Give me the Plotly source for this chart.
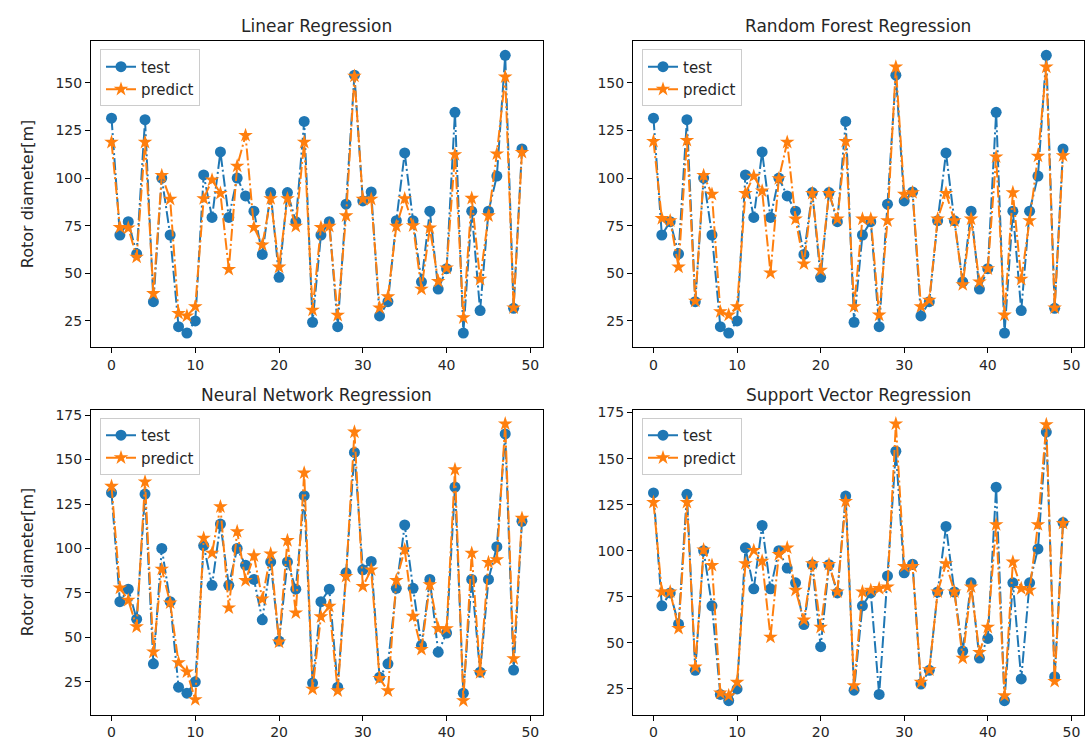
import plotly.graph_objects as go
from plotly.subplots import make_subplots

idx = list(range(50))

test = [131.4, 70.1, 77.1, 60.2, 130.6, 35.1, 100.0, 70.1, 22.0, 18.6,
        25.0, 101.6, 79.3, 113.7, 79.3, 100.0, 90.6, 82.6, 59.9, 92.4,
        47.9, 92.4, 77.1, 129.7, 24.3, 70.1, 77.1, 22.0, 86.3, 154.0,
        88.0, 92.7, 27.6, 35.1, 77.6, 113.2, 77.6, 45.5, 82.6, 41.7,
        52.4, 134.5, 18.6, 82.6, 30.4, 82.6, 101.0, 164.4, 31.6, 115.3]

lr_pred = [118.8, 74.1, 73.8, 58.5, 118.8, 39.4, 101.4, 88.9, 29.0, 27.6,
           32.5, 89.2, 99.0, 92.0, 52.1, 106.3, 122.4, 74.1, 64.9, 89.2,
           53.3, 89.2, 74.7, 118.8, 30.7, 74.1, 74.7, 28.0, 80.2, 153.5,
           88.9, 88.9, 31.9, 37.7, 74.7, 89.2, 75.0, 41.7, 73.8, 45.8,
           52.8, 112.3, 26.7, 89.4, 46.9, 80.2, 112.7, 153.1, 31.9, 113.5]

rf_pred = [119.3, 78.8, 77.6, 53.3, 119.8, 35.4, 101.4, 91.5, 29.9, 28.1,
           32.5, 92.0, 101.0, 93.2, 50.2, 99.7, 118.8, 78.5, 55.0, 92.0,
           51.6, 92.0, 78.5, 119.3, 32.5, 78.5, 78.5, 28.1, 77.6, 158.3,
           91.5, 92.4, 32.5, 35.9, 78.5, 92.0, 77.6, 44.1, 78.5, 45.5,
           52.4, 111.1, 28.1, 92.4, 46.9, 77.6, 111.5, 158.3, 31.9, 111.8]

nn_pred = [135.0, 77.8, 70.9, 56.0, 137.5, 41.8, 88.4, 69.4, 35.8, 30.6,
           15.0, 105.8, 97.4, 123.5, 66.6, 109.5, 82.0, 95.9, 71.6, 97.0,
           47.4, 104.5, 63.8, 142.5, 20.9, 61.6, 67.5, 20.0, 84.3, 165.5,
           78.7, 88.0, 26.9, 20.0, 82.1, 99.3, 61.9, 43.3, 79.7, 54.9,
           54.9, 144.4, 14.4, 97.4, 30.2, 92.2, 93.7, 170.1, 38.1, 117.0]

svr_pred = [126.3, 77.7, 77.7, 57.9, 126.3, 36.9, 100.5, 92.1, 22.8, 21.4,
            28.6, 93.0, 100.2, 94.4, 53.1, 98.0, 101.6, 78.6, 62.4, 93.0,
            58.5, 92.6, 77.7, 126.8, 26.8, 77.7, 78.6, 79.5, 80.4, 168.9,
            91.5, 91.5, 28.6, 35.4, 77.7, 93.0, 77.7, 41.7, 80.4, 44.8,
            58.5, 114.2, 21.4, 93.9, 79.5, 78.6, 114.2, 168.5, 29.1, 114.9]

titles = ["Linear Regression", "Random Forest Regression",
          "Neural Network Regression", "Support Vector Regression"]
preds = [lr_pred, rf_pred, nn_pred, svr_pred]
ylabel = "Rotor diameter[m]"

W, H = 1087, 747
BLUE = "#1f77b4"
ORANGE = "#ff7f0e"
FONT = "DejaVu Sans"
TXT = "#262626"
DASH = "12px,3px,2px,3px"

# pixel boxes of axes (left, right, top, bottom)
boxes = [(91, 542.5, 36.7, 344.3), (633, 1083.5, 36.7, 344.3),
         (91, 542.5, 407.7, 714.3), (633, 1083.5, 407.7, 714.3)]

fig = make_subplots(rows=2, cols=2)
legend_names = ["legend", "legend2", "legend3", "legend4"]

for k in range(4):
    r, c = k // 2 + 1, k % 2 + 1
    lg = legend_names[k]
    fig.add_trace(go.Scatter(
        x=idx, y=test, name="test", mode="lines+markers",
        line=dict(color=BLUE, width=2, dash=DASH),
        marker=dict(symbol="circle", size=11, color=BLUE),
        legend=lg), row=r, col=c)
    fig.add_trace(go.Scatter(
        x=idx, y=preds[k], name="predict", mode="lines+markers",
        line=dict(color=ORANGE, width=2, dash=DASH),
        marker=dict(symbol="star", size=11, color=ORANGE),
        legend=lg), row=r, col=c)

layout_updates = {}
for k in range(4):
    L, R, T, B = boxes[k]
    ax = "" if k == 0 else str(k + 1)
    allv = test + preds[k]
    lo, hi = min(allv), max(allv)
    m = (hi - lo) * 0.05
    layout_updates["xaxis" + ax] = dict(
        domain=[L / W, R / W], range=[-2.45, 51.45],
        tickvals=[0, 10, 20, 30, 40, 50], ticks="outside", ticklen=5,
        tickwidth=1, tickcolor="#000", showline=True, linecolor="#000",
        linewidth=1, mirror=True, showgrid=False, zeroline=False,
        tickfont=dict(family=FONT, size=14, color=TXT))
    layout_updates["yaxis" + ax] = dict(
        domain=[1 - B / H, 1 - T / H], range=[lo - m, hi + m],
        tickvals=[25, 50, 75, 100, 125, 150, 175], ticks="outside", ticklen=5,
        tickwidth=1, tickcolor="#000", showline=True, linecolor="#000",
        linewidth=1, mirror=True, showgrid=False, zeroline=False,
        tickfont=dict(family=FONT, size=14, color=TXT))
    leg = dict(x=(L + 9) / W, y=1 - (T + 8) / H, xanchor="left", yanchor="top",
               bgcolor="rgba(255,255,255,0.8)", bordercolor="#cccccc",
               borderwidth=1, font=dict(family=FONT, size=15, color=TXT),
               tracegroupgap=0, itemwidth=30)
    layout_updates[legend_names[k]] = leg

fig.update_layout(**layout_updates)

annotations = []
for k in range(4):
    L, R, T, B = boxes[k]
    annotations.append(dict(
        text=titles[k], x=(L + R) / 2 / W, y=1 - T / H, xref="paper",
        yref="paper", xanchor="center", yanchor="bottom", yshift=3,
        showarrow=False, font=dict(family=FONT, size=17, color=TXT)))
for k in (0, 2):
    L, R, T, B = boxes[k]
    annotations.append(dict(
        text=ylabel, x=27 / W, y=1 - (T + B) / 2 / H, xref="paper",
        yref="paper", xanchor="center", yanchor="middle", textangle=-90,
        showarrow=False, font=dict(family=FONT, size=16, color=TXT)))

fig.update_layout(
    width=W, height=H, margin=dict(l=0, r=0, t=0, b=0),
    plot_bgcolor="white", paper_bgcolor="white",
    annotations=annotations, showlegend=True)

fig.write_html("out.html")
